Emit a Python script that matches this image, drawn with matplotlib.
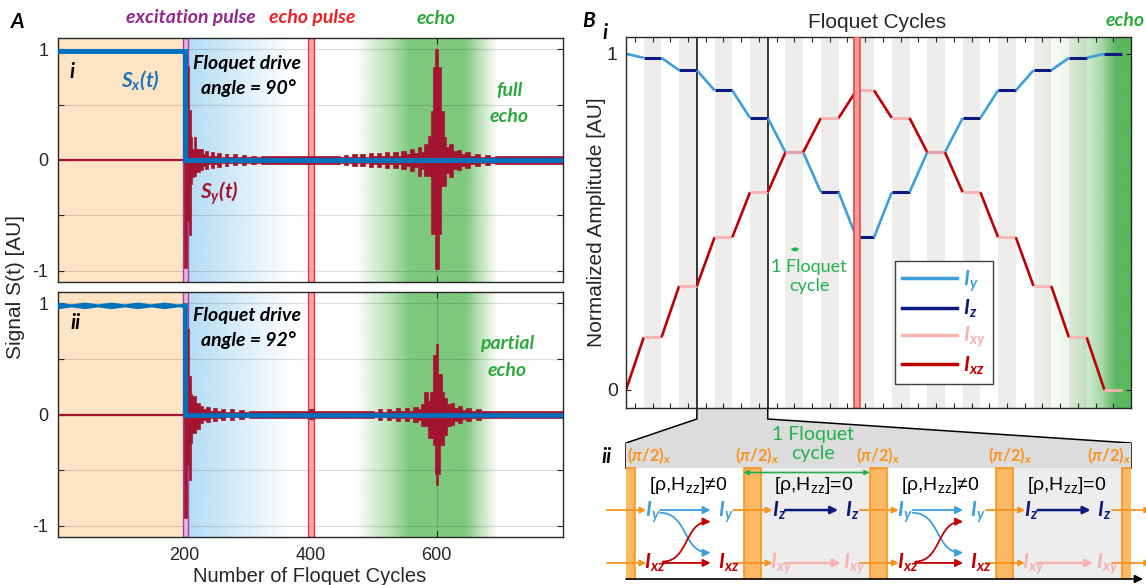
import numpy as np
import matplotlib
matplotlib.use("Agg")
import matplotlib.pyplot as plt
from matplotlib.colors import to_rgb
from matplotlib.patches import Rectangle, Polygon, FancyArrowPatch
from matplotlib.path import Path
from matplotlib.lines import Line2D

# ------------------ data ------------------
# A : signals vs number of Floquet cycles
sx_t = [0, 201, 201, 800]
sx_v = [0.985, 0.985, 0, 0]

# A ii : Sx wobbles before the pulse (upper / lower edge of the thick line)
sx2_t = [0, 21, 42, 63, 84, 105, 126, 147, 168, 189, 200]
sx2_hi = [1.002, 0.986, 1.002, 0.986, 1.002, 0.986, 1.002, 0.986, 1.002, 0.986, 0.99]
sx2_lo = [0.958, 0.974, 0.958, 0.974, 0.958, 0.974, 0.958, 0.974, 0.958, 0.974, 0.97]

# Sy envelope (step edges, upper, lower) - angle 90
sy1_t = [200, 205, 207.5, 210.5, 213, 216, 219, 225, 229, 233,
         237, 242, 247, 252, 258, 264, 270, 277, 284, 291,
         298, 306, 314, 322,
         440, 447, 453, 460, 466, 473, 479, 486, 492, 499,
         505, 512, 518, 525, 531, 538, 544, 551, 557, 564,
         570, 575, 580,
         586, 591, 594.5, 597, 598, 601.5, 603.5, 607.5, 611, 615,
         620, 626, 632, 638, 645, 652, 660, 668, 676, 684,
         692, 700, 800]
sy1_hi = [.20, .85, .45, .21, .10, .21, .10, .10, .05, .08,
          .04, .07, .035, .06, .03, .055, .03, .05, .025, .045,
          .025, .04, .025, .035,
          .04, .025, .045, .025, .05, .03, .055, .03, .06, .035,
          .065, .035, .07, .04, .075, .04, .085, .05, .10, .06,
          .12, .07, .14,
          .22, .44, .84, .84, 1.0, .84, .84, .44, .21, .12,
          .14, .08, .09, .05, .07, .035, .055, .03, .045, .025,
          .04, .035, .035]
sy1_lo = [-.97, -.55, -.68, -.22, -.15, -.14, -.11, -.09, -.05, -.08,
          -.04, -.07, -.035, -.06, -.03, -.05, -.03, -.045, -.025, -.045,
          -.025, -.04, -.025, -.035,
          -.04, -.025, -.045, -.025, -.05, -.03, -.055, -.03, -.06, -.035,
          -.065, -.035, -.07, -.04, -.075, -.04, -.085, -.05, -.10, -.06,
          -.14, -.08, -.14,
          -.14, -.67, -.67, -.98, -.98, -.98, -.67, -.23, -.23, -.12,
          -.15, -.08, -.09, -.05, -.07, -.035, -.055, -.03, -.045, -.025,
          -.04, -.035, -.035]

# Sy envelope - angle 92
sy2_t = [200, 205, 207.5, 210.5, 213, 218, 225, 230, 235, 240,
         246, 252, 258, 265, 272, 279, 286, 294, 302, 320,
         398, 405, 480, 500, 507, 514, 521, 528, 535, 542,
         549, 556, 563, 570, 575, 580, 586, 590, 594, 597,
         599, 602, 605, 609, 612, 617, 622, 628, 634, 640,
         647, 654, 662, 670, 800]
sy2_hi = [.20, .77, .35, .18, .17, .10, .08, .045, .07, .035,
          .06, .03, .05, .025, .045, .025, .04, .025, .035, .03,
          .05, .03, .035, .025, .045, .025, .05, .03, .055, .03,
          .06, .035, .07, .05, .09, .20, .12, .20, .53, .53,
          .63, .36, .36, .20, .15, .09, .10, .06, .08, .04,
          .06, .03, .05, .035, .035]
sy2_lo = [-.93, -.45, -.59, -.26, -.17, -.13, -.08, -.045, -.07, -.035,
          -.06, -.03, -.05, -.025, -.045, -.025, -.04, -.025, -.035, -.03,
          -.04, -.03, -.035, -.025, -.045, -.025, -.05, -.03, -.055, -.03,
          -.06, -.035, -.07, -.05, -.10, -.10, -.21, -.21, -.27, -.53,
          -.63, -.53, -.27, -.27, -.18, -.10, -.09, -.06, -.08, -.04,
          -.06, -.03, -.05, -.035, -.035]

excite_pulse = (197.5, 206.5)
echo_pulse = (396, 406)

# B i : amplitudes at the segment boundaries (echo pulse at segment 13)
seg_k = list(range(29))
iy_amp = [1.0, .988, .988, .951, .951, .891, .891, .809, .809, .707, .707, .588, .588, .454,
          .454, .588, .588, .707, .707, .809, .809, .891, .891, .951, .951, .988, .988, 1.0, 1.0]
ixz_amp = [0, .156, .156, .309, .309, .454, .454, .588, .588, .707, .707, .809, .809, .891,
           .891, .809, .809, .707, .707, .588, .588, .454, .454, .309, .309, .156, .156, 0, 0]
echo_k = (12.87, 13.2)
zoom_k = [4, 8]

# B ii : sections of the zoomed part
ii_edges = [4, 5, 6, 7, 8]
ii_commute = [False, True, False, True]

# ------------------ style ------------------
plt.rcParams['font.family'] = ['Liberation Sans', 'DejaVu Sans']
plt.rcParams['axes.unicode_minus'] = False
plt.rcParams['mathtext.fontset'] = 'custom'
plt.rcParams['mathtext.rm'] = 'Liberation Sans'
plt.rcParams['mathtext.it'] = 'Liberation Sans:italic'
plt.rcParams['mathtext.bf'] = 'Lato:bold:italic'
BI = dict(family='Lato', weight='bold', style='italic')

C_SX, C_SY = '#0072BD', '#A2142F'
C_IY, C_IZ, C_IXY, C_IXZ = '#3E9FDA', '#0F1A80', '#F7B2B2', '#C00000'
C_OR, C_GREEN, C_LGREEN = '#F7941D', '#2EA83A', '#22B24C'
DARK = '#262626'

W, H = 1146, 585
fig = plt.figure(figsize=(W / 100, H / 100), dpi=100)


def ftxt(x, y, s, **kw):
    kw.setdefault('ha', 'center')
    kw.setdefault('va', 'center')
    fig.text(x / W, 1 - y / H, s, **kw)


def rect_px(l, t, r, b):
    return [l / W, 1 - b / H, (r - l) / W, (b - t) / H]


# overlay for the zoom connector (pixel coords)
axO = fig.add_axes([0, 0, 1, 1])
axO.set_xlim(0, W)
axO.set_ylim(0, H)
axO.axis('off')


def h_grad(ax, x0, x1, y0, y1, color, xs, alphas, z):
    gx = np.linspace(x0, x1, 400)
    img = np.ones((1, 400, 4))
    img[..., :3] = to_rgb(color)
    img[0, :, 3] = np.interp(gx, xs, alphas)
    ax.imshow(img, extent=[x0, x1, y0, y1], aspect='auto', zorder=z, interpolation='bilinear')


def panel_A(rect, sy_t, sy_hi, sy_lo, wobble):
    ax = fig.add_axes(rect)
    ax.axvspan(0, excite_pulse[0], color='#FCE4C5', lw=0, zorder=0.1)
    h_grad(ax, excite_pulse[1], 372, -1.2, 1.2, '#B3DCF5', [excite_pulse[1], 372], [1, 0], 0.1)
    h_grad(ax, 470, 700, -1.2, 1.2, '#7FC97F', [470, 525, 556, 645, 668, 695], [0, 0.55, 1, 1, 0.5, 0], 0.1)
    ax.axvspan(*excite_pulse, fc='#EDB3DA', ec='#A0439A', lw=1, zorder=0.6)
    ax.axvspan(*echo_pulse, fc='#F4A3A3', ec='#E0393E', lw=1, zorder=0.6)

    ax.plot([0, sy_t[0]], [0, 0], color=C_SY, lw=1.6, zorder=2)
    ax.fill_between(sy_t, sy_lo, sy_hi, step='post', color=C_SY, lw=0.5, zorder=2)
    if wobble:
        ax.fill_between(sx2_t, sx2_lo, sx2_hi, color=C_SX, lw=1.2, zorder=3)
        ax.plot(sx_t[1:], [sx2_hi[-1] - 0.01, 0, 0], color=C_SX, lw=3.4, zorder=3)
    else:
        ax.plot(sx_t, sx_v, color=C_SX, lw=3.6, zorder=3, solid_joinstyle='miter')

    ax.set_xlim(0, 800)
    ax.set_ylim(-1.1, 1.1)
    ax.set_xticks([200, 400, 600])
    ax.set_yticks([-1, -0.5, 0, 0.5, 1])
    ax.set_yticklabels(['-1', '', '0', '', '1'])
    ax.tick_params(direction='in', top=True, right=True, length=4, width=0.8,
                   labelsize=13, colors=DARK, pad=7)
    ax.grid(True, color='k', alpha=0.13, lw=0.9)
    ax.set_axisbelow(True)
    for s in ax.spines.values():
        s.set_color(DARK)
        s.set_linewidth(1)
    return ax


axA1 = panel_A(rect_px(58, 38, 563, 282), sy1_t, sy1_hi, sy1_lo, False)
axA1.set_xticklabels([])
axA2 = panel_A(rect_px(58, 292, 563, 537), sy2_t, sy2_hi, sy2_lo, True)

ftxt(16, 287, 'Signal S(t) [AU]', rotation=90, size=15, color=DARK)
ftxt(310, 576, 'Number of Floquet Cycles', size=14.5, color=DARK)

ftxt(18, 22, 'A', size=15, color='k', **BI)
ftxt(191, 18, 'excitation pulse', size=14, color='#92278F', **BI)
ftxt(312, 18, 'echo pulse', size=14, color='#ED2024', **BI)
ftxt(436, 18, 'echo', size=14, color=C_GREEN, **BI)
ftxt(72, 72, 'i', size=15, color='k', **BI)
ftxt(76, 323, 'ii', size=15, color='k', **BI)
ftxt(140, 80, r'S$_\mathbf{x}$(t)', size=15, color='#1B75BC', **BI)
ftxt(219, 193, r'S$_\mathbf{y}$(t)', size=15, color=C_SY, **BI)
ftxt(247, 63, 'Floquet drive', size=14, color='k', **BI)
ftxt(248, 88, 'angle = 90°', size=14, color='k', **BI)
ftxt(509, 90, 'full', size=14, color=C_GREEN, **BI)
ftxt(509, 117, 'echo', size=14, color=C_GREEN, **BI)
ftxt(247, 316, 'Floquet drive', size=14, color='k', **BI)
ftxt(248, 340, 'angle = 92°', size=14, color='k', **BI)
ftxt(507, 344, 'partial', size=14, color=C_GREEN, **BI)
ftxt(507, 370, 'echo', size=14, color=C_GREEN, **BI)

# ------------------ B i ------------------
axB = fig.add_axes(rect_px(626, 37, 1131, 408))
for k in seg_k[1:-1:2]:
    axB.axvspan(k, k + 1, color='#EEEDEB', lw=0, zorder=0.2)
h_grad(axB, 23, 28.5, -0.1, 1.1, '#5BB85E', [23.3, 25, 26, 27, 27.6, 28.5], [0, 0.12, 0.3, 0.6, 1, 1], 0.3)
for k in zoom_k:
    axB.axvline(k, color='k', lw=1.1, zorder=1)

for i in range(len(seg_k) - 1):
    xs = seg_k[i:i + 2]
    evolving = i % 2 == 0
    axB.plot(xs, iy_amp[i:i + 2], color=C_IY if evolving else C_IZ, lw=1.9 if evolving else 2.2,
             zorder=2, solid_capstyle='butt')
    axB.plot(xs, ixz_amp[i:i + 2], color=C_IXZ if evolving else C_IXY, lw=1.9 if evolving else 2.2,
             zorder=2.1, solid_capstyle='butt', alpha=1 if evolving else 0.9)
axB.axvspan(*echo_k, fc='#F49C9C', ec='#E5484B', lw=1.2, zorder=3)

axB.set_xlim(0, 28.5)
axB.set_ylim(-0.054, 1.05)
axB.set_xticks(np.arange(0.5, 28, 1))
axB.set_xticklabels([])
axB.set_yticks([0, 1])
axB.set_yticklabels(['0', '1'])
axB.tick_params(direction='in', top=True, right=True, length=3.5, width=0.8,
                labelsize=14, colors=DARK, pad=6)
for s in axB.spines.values():
    s.set_color(DARK)
    s.set_linewidth(1)

# small "1 Floquet cycle" marker
axB.annotate('', xy=(9.97, 0.418), xytext=(9.12, 0.418),
             arrowprops=dict(arrowstyle='<|-|>', color=C_LGREEN, lw=1, mutation_scale=5))
ftxt(809, 267, '1 Floquet', size=13, color=C_LGREEN, family='Lato')
ftxt(809, 286, 'cycle', size=13, color=C_LGREEN, family='Lato')

handles = [Line2D([], [], color=c, lw=2.5) for c in (C_IY, C_IZ, C_IXY, C_IXZ)]
labels = [r'I$_\mathbf{y}$', r'I$_\mathbf{z}$', r'I$_\mathbf{xy}$', r'I$_\mathbf{xz}$']
leg = axB.legend(handles, labels, loc='lower left', bbox_to_anchor=(0.533, 0.065),
                 borderaxespad=0, prop=dict(size=15, **BI), handlelength=2.6, handletextpad=0.3,
                 labelspacing=0.2, borderpad=0.35, fancybox=False, framealpha=1,
                 edgecolor='#404040')
leg.get_frame().set_linewidth(1)
for t, c in zip(leg.get_texts(), (C_IY, C_IZ, C_IXY, C_IXZ)):
    t.set_color(c)

ftxt(596, 222, 'Normalized Amplitude [AU]', rotation=90, size=15, color=DARK)
ftxt(877, 22, 'Floquet Cycles', size=15, color=DARK)
ftxt(589, 21, 'B', size=15, color='k', **BI)
ftxt(605, 33, 'i', size=15, color='k', **BI)
ftxt(1125, 20, 'echo', size=14, color=C_GREEN, **BI)

# ------------------ B ii ------------------
axC = fig.add_axes(rect_px(626, 443, 1131, 579))
axC.set_xlim(4, 8)
axC.set_ylim(0, 1)
axC.axis('off')
HDR = 0.816
ROW1, ROW2 = 0.507, 0.118
axC.add_patch(Rectangle((4, HDR), 4, 1 - HDR, fc='#DCDCDC', ec='none', zorder=0))
for s0, s1, comm in zip(ii_edges[:-1], ii_edges[1:], ii_commute):
    if comm:
        axC.add_patch(Rectangle((s0, 0), s1 - s0, HDR, fc='#EDEDED', ec='none', zorder=0))
for b in ii_edges:
    axC.add_patch(Rectangle((b - 0.068, 0), 0.136, HDR, fc='#FDB863', ec=C_OR, lw=1.2, zorder=1))
    for r in (ROW1, ROW2):
        axC.annotate('', xy=(b + 0.16, r), xytext=(b - 0.15, r), annotation_clip=False,
                     arrowprops=dict(arrowstyle='-|>', color=C_OR, lw=1.3, mutation_scale=9,
                                     shrinkA=0, shrinkB=0), zorder=2)
for x, b in zip([4.18, 5.04, 6.0, 7.04, 7.83], ii_edges):
    axC.text(x, 0.905, r'($\mathbf{\pi}$/2)$_\mathbf{x}$', ha='center', va='center', size=12,
             color=C_OR, family='Lato', weight='bold')


def arrow(p0, p1, color, lw=1.3, path=None):
    if path is None:
        a = FancyArrowPatch(p0, p1, arrowstyle='-|>', mutation_scale=11, color=color, lw=lw,
                            shrinkA=0, shrinkB=0, zorder=3)
    else:
        a = FancyArrowPatch(path=path, arrowstyle='-|>', mutation_scale=11, color=color, lw=lw,
                            zorder=3)
    axC.add_patch(a)


def s_curve(x0, y0, x1, y1):
    dx = (x1 - x0) * 0.55
    return Path([(x0, y0), (x0 + dx, y0), (x1 - dx, y1), (x1, y1)],
                [Path.MOVETO, Path.CURVE4, Path.CURVE4, Path.CURVE4])


for s0, comm in zip(ii_edges[:-1], ii_commute):
    sym = '=' if comm else '≠'
    axC.text(s0 + 0.49, 0.69, r'[ρ,H$_\mathrm{zz}$]' + sym + '0', ha='center', va='center',
             size=14, color='k')
    if comm:
        top, bot = (r'I$_\mathbf{z}$', C_IZ), (r'I$_\mathbf{xy}$', C_IXY)
        arrow((s0 + 0.26, ROW1), (s0 + 0.68, ROW1), C_IZ, lw=1.8)
        arrow((s0 + 0.26, ROW2), (s0 + 0.70, ROW2), C_IXY, lw=1.8)
    else:
        top, bot = (r'I$_\mathbf{y}$', C_IY), (r'I$_\mathbf{xz}$', C_IXZ)
        arrow((s0 + 0.27, ROW1), (s0 + 0.67, ROW1), C_IY)
        arrow((s0 + 0.29, ROW2), (s0 + 0.67, ROW2), C_IXZ)
        arrow(None, None, C_IY, path=s_curve(s0 + 0.27, ROW1 - 0.02, s0 + 0.67, ROW2 + 0.075))
        arrow(None, None, C_IXZ, path=s_curve(s0 + 0.29, ROW2 + 0.01, s0 + 0.67, ROW1 - 0.085))
    for dx in (0.21, 0.79):
        axC.text(s0 + dx, ROW1 - 0.05, top[0], ha='center', va='baseline', size=15, color=top[1], **BI)
        axC.text(s0 + dx + 0.02, ROW2 - 0.04, bot[0], ha='center', va='baseline', size=15, color=bot[1], **BI)

axC.annotate('', xy=(5.93, 0.783), xytext=(4.93, 0.783), annotation_clip=False,
             arrowprops=dict(arrowstyle='<|-|>', color=C_LGREEN, lw=1.2, mutation_scale=7,
                             shrinkA=0, shrinkB=0))
axC.text(5.48, 1.06, '1 Floquet', ha='center', va='center', size=14, color=C_LGREEN, family='Lato')
axC.text(5.48, 0.925, 'cycle', ha='center', va='center', size=14, color=C_LGREEN, family='Lato')
axC.annotate('', xy=(8.095, 0), xytext=(4, 0), annotation_clip=False,
             arrowprops=dict(arrowstyle='-|>', color='k', lw=1.2, mutation_scale=12,
                             shrinkA=0, shrinkB=0))
ftxt(607, 457, 'ii', size=15, color='k', **BI)

# ------------------ zoom connector ------------------
xa = axB.transData.transform((zoom_k[0], 0))[0]
xb = axB.transData.transform((zoom_k[1], 0))[0]
yB = H - 408
yN = H - 419
yT = H - 443
yHd = H - 468
poly = [(xa, yB), (xb, yB), (xb, yN), (1131, yT), (1131, yHd), (626, yHd), (626, yT), (xa, yN)]
axO.add_patch(Polygon(poly, closed=True, fc='#DCDCDC', ec='none'))
axO.plot([xa, xa, 626, 626], [yB, yN, yT, yHd], color='k', lw=1.1)
axO.plot([xb, xb, 1131, 1131], [yB, yN, yT, yHd], color='k', lw=1.1)

fig.savefig('out.png', dpi=100)
